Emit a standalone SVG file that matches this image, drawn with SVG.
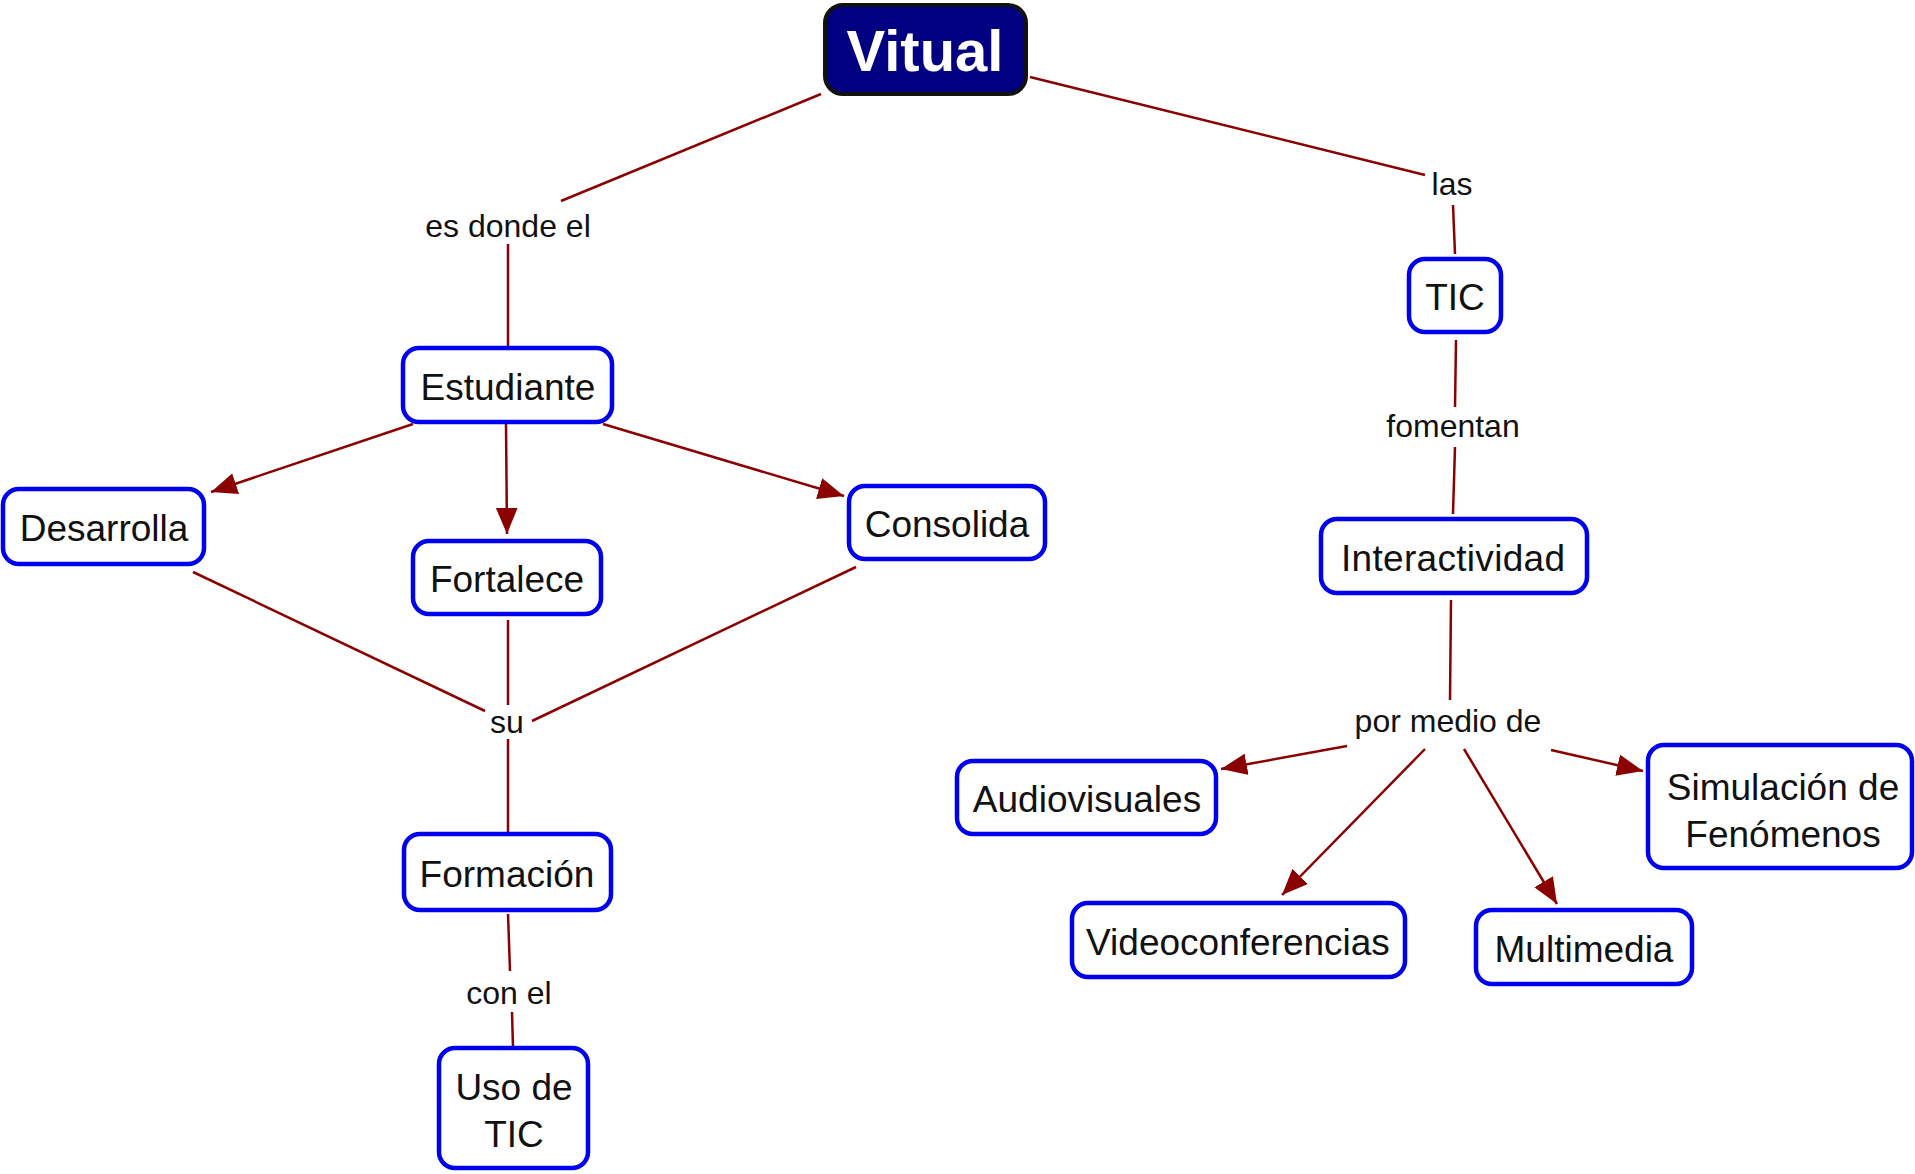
<svg xmlns="http://www.w3.org/2000/svg" width="1915" height="1174" viewBox="0 0 1915 1174">
<style>
.n rect{fill:#fff;stroke:#0000ee;stroke-width:4.5}
.n text{font-family:"Liberation Sans",Arial,sans-serif;font-size:37px;fill:#111;text-anchor:middle}
.l text{font-family:"Liberation Sans",Arial,sans-serif;font-size:32px;fill:#111;text-anchor:middle}
#connectors line{stroke:#8b0000;stroke-width:2.5}
.a{marker-end:url(#ah)}
</style>
<defs>
<marker id="ah" markerUnits="userSpaceOnUse" markerWidth="26" markerHeight="22" refX="24" refY="10" orient="auto" viewBox="0 0 24 20">
<path d="M0,0 L24,10 L0,20 z" fill="#8b0000"/>
</marker>
</defs>
<rect width="1915" height="1174" fill="#fff"/>
<g id="connectors">
<line x1="821" y1="94" x2="561" y2="201"/>
<line x1="508" y1="244" x2="508" y2="346"/>
<line x1="1030" y1="77" x2="1425" y2="175"/>
<line x1="1453" y1="205" x2="1455" y2="254"/>
<line x1="1456" y1="340" x2="1455" y2="407"/>
<line x1="1455" y1="447" x2="1453" y2="514"/>
<line x1="1451" y1="600" x2="1450" y2="700"/>
<line class="a" x1="1347" y1="746" x2="1221" y2="769"/>
<line class="a" x1="1425" y1="749" x2="1282" y2="895"/>
<line class="a" x1="1464" y1="749" x2="1557" y2="904"/>
<line class="a" x1="1551" y1="750" x2="1643" y2="771"/>
<line class="a" x1="413" y1="424" x2="211" y2="492"/>
<line class="a" x1="506" y1="424" x2="507" y2="534"/>
<line class="a" x1="603" y1="424" x2="844" y2="496"/>
<line x1="193" y1="572" x2="485" y2="711"/>
<line x1="508" y1="620" x2="508" y2="705"/>
<line x1="856" y1="567" x2="532" y2="721"/>
<line x1="508" y1="739" x2="508" y2="832"/>
<line x1="508" y1="914" x2="510" y2="971"/>
<line x1="512" y1="1012" x2="513" y2="1047"/>
</g>
<g id="vitual">
<rect x="825" y="5" width="201" height="89" rx="18" fill="#000080" stroke="#111" stroke-width="4"/>
<text x="925" y="71" font-family="Liberation Sans,Arial,sans-serif" font-size="58" font-weight="bold" fill="#fff" text-anchor="middle">Vitual</text>
</g>
<g class="l" id="lbl-esdonde"><text x="508" y="237">es donde el</text></g>
<g class="l" id="lbl-las"><text x="1452" y="195">las</text></g>
<g class="l" id="lbl-fomentan"><text x="1453" y="437">fomentan</text></g>
<g class="l" id="lbl-su"><text x="507" y="733">su</text></g>
<g class="l" id="lbl-conel"><text x="509" y="1004">con el</text></g>
<g class="l" id="lbl-pormedio"><text x="1448" y="732">por medio de</text></g>
<g class="n" id="estudiante"><rect x="403" y="348" width="209" height="74" rx="16"/><text x="508" y="400">Estudiante</text></g>
<g class="n" id="desarrolla"><rect x="3" y="489" width="201" height="75" rx="16"/><text x="104" y="541">Desarrolla</text></g>
<g class="n" id="fortalece"><rect x="413" y="541" width="188" height="73" rx="16"/><text x="507" y="592">Fortalece</text></g>
<g class="n" id="consolida"><rect x="849" y="486" width="196" height="73" rx="16"/><text x="947" y="537">Consolida</text></g>
<g class="n" id="formacion"><rect x="404" y="834" width="207" height="76" rx="16"/><text x="507" y="887">Formación</text></g>
<g class="n" id="usodetic"><rect x="439" y="1048" width="149" height="120" rx="16"/><text x="514" y="1100">Uso de</text><text x="514" y="1147">TIC</text></g>
<g class="n" id="tic"><rect x="1409" y="259" width="92" height="73" rx="16"/><text x="1455" y="310">TIC</text></g>
<g class="n" id="interactividad"><rect x="1321" y="519" width="266" height="74" rx="16"/><text x="1453" y="571" textLength="224">Interactividad</text></g>
<g class="n" id="audiovisuales"><rect x="957" y="761" width="259" height="73" rx="16"/><text x="1087" y="812">Audiovisuales</text></g>
<g class="n" id="videoconferencias"><rect x="1072" y="903" width="333" height="74" rx="16"/><text x="1238" y="955">Videoconferencias</text></g>
<g class="n" id="multimedia"><rect x="1476" y="910" width="216" height="74" rx="16"/><text x="1584" y="962">Multimedia</text></g>
<g class="n" id="simulacion"><rect x="1648" y="745" width="264" height="123" rx="16"/><text x="1783" y="800">Simulación de</text><text x="1783" y="847">Fenómenos</text></g>
</svg>
